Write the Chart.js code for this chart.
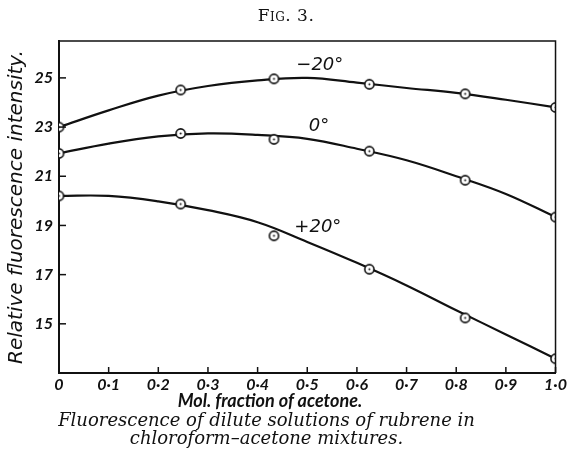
<!DOCTYPE html>
<html>
<head>
<meta charset="utf-8">
<script src="https://cdn.jsdelivr.net/npm/chart.js@4"></script>
<style>
  body { margin: 0; background: #fff; }
  #wrap { position: relative; width: 569px; height: 459px; }
  #chart { position: absolute; left: 0; top: 0; }
  .txt { position: absolute; color: #111; white-space: nowrap; }
  #fig { left: 0; width: 572px; top: 5px; text-align: center; font: 17px "DejaVu Serif", serif; font-variant: small-caps; letter-spacing: 0.5px; }
  #xtitle { left: 0; width: 540px; top: 389px; text-align: center; font: italic bold 18px Lato, sans-serif; }
  #caption { left: 0; width: 533px; top: 411px; text-align: center; font: italic 18px "DejaVu Serif", serif; line-height: 18px; }
</style>
</head>
<body>
<div id="wrap">
  <canvas id="chart" width="569" height="459"></canvas>
  <div class="txt" id="fig">Fig. 3.</div>
  <div class="txt" id="xtitle">Mol. fraction of acetone.</div>
  <div class="txt" id="caption">Fluorescence of dilute solutions of rubrene in<br>chloroform–acetone mixtures.</div>
</div>
<script>
// measured points
const molFraction = [0, 0.245, 0.433, 0.625, 0.818, 1.0];
const minus20 = [23.0, 24.51, 24.96, 24.74, 24.35, 23.8];
const zero = [21.93, 22.74, 22.5, 22.02, 20.84, 19.34];
const plus20 = [20.2, 19.87, 18.58, 17.22, 15.24, 13.58];

// drawn curves
const curveX = [0, 0.1, 0.2, 0.3, 0.4, 0.5, 0.6, 0.7, 0.8, 0.9, 1.0];
const curveMinus20 = [23.0, 23.68, 24.28, 24.67, 24.9, 25.0, 24.81, 24.59, 24.39, 24.11, 23.8];
const curveZero = [21.93, 22.33, 22.62, 22.74, 22.68, 22.52, 22.12, 21.65, 21.0, 20.28, 19.34];
const curvePlus20 = [20.2, 20.2, 19.98, 19.62, 19.13, 18.33, 17.48, 16.56, 15.55, 14.57, 13.58];

const yTicks = [15, 17, 19, 21, 23, 25];
const seriesNames = ['−20°', '0°', '+20°'];

const toXY = (xs, ys) => xs.map((x, i) => ({ x: x, y: ys[i] }));

// circle with a dot in the middle
const marker = document.createElement('canvas');
marker.width = 13; marker.height = 13;
const mctx = marker.getContext('2d');
mctx.beginPath();
mctx.arc(6.5, 6.5, 4.6, 0, Math.PI * 2);
mctx.fillStyle = '#fff';
mctx.fill();
mctx.lineWidth = 1.6;
mctx.strokeStyle = '#111';
mctx.stroke();
mctx.beginPath();
mctx.arc(6.5, 6.5, 1, 0, Math.PI * 2);
mctx.fillStyle = '#111';
mctx.fill();

function curve(data) {
    return {
        data: data, borderColor: '#111', borderWidth: 2.2, pointRadius: 0,
        tension: 0.4, fill: false, order: 1
    };
}
function points(data) {
    return {
        data: data, showLine: false, pointStyle: marker, pointRadius: 6, order: 0
    };
}

// where the series names sit, in data units
const nameAt = [{ x: 0.478, y: 25.5 }, { x: 0.503, y: 23.05 }, { x: 0.474, y: 18.92 }];

const framePlugin = {
    id: 'frame',
    afterDatasetsDraw(chart) {
        const ctx = chart.ctx, a = chart.chartArea;
        const xs = chart.scales.x, ys = chart.scales.y;
        ctx.save();
        ctx.strokeStyle = '#111';
        ctx.lineWidth = 1.5;
        ctx.beginPath();
        ctx.moveTo(a.left, a.top);
        ctx.lineTo(a.right, a.top);
        ctx.lineTo(a.right, a.bottom);
        ctx.stroke();
        // inward ticks
        xs.ticks.forEach(t => {
            const px = xs.getPixelForValue(t.value);
            ctx.beginPath();
            ctx.moveTo(px, a.bottom);
            ctx.lineTo(px, a.bottom - 6);
            ctx.stroke();
        });
        ys.ticks.forEach(t => {
            const py = ys.getPixelForValue(t.value);
            ctx.beginPath();
            ctx.moveTo(a.left, py);
            ctx.lineTo(a.left + 7, py);
            ctx.stroke();
        });
        ctx.fillStyle = '#111';
        ctx.font = 'italic 18px "DejaVu Sans", sans-serif';
        ctx.textBaseline = 'middle';
        ctx.textAlign = 'left';
        nameAt.forEach((p, i) => {
            ctx.fillText(seriesNames[i], xs.getPixelForValue(p.x), ys.getPixelForValue(p.y));
        });
        ctx.restore();
    }
};

const tickFont = { family: 'Lato, sans-serif', size: 16, style: 'italic', weight: 'bold' };

new Chart(document.getElementById('chart'), {
    type: 'line',
    data: {
        datasets: [
            curve(toXY(curveX, curveMinus20)),
            curve(toXY(curveX, curveZero)),
            curve(toXY(curveX, curvePlus20)),
            points(toXY(molFraction, minus20)),
            points(toXY(molFraction, zero)),
            points(toXY(molFraction, plus20))
        ]
    },
    options: {
        responsive: false,
        animation: false,
        devicePixelRatio: 1,
        layout: { padding: { left: 0, top: 41, right: 12, bottom: 66 } },
        plugins: { legend: { display: false }, tooltip: { enabled: false } },
        scales: {
            x: {
                type: 'linear', min: 0, max: 1,
                ticks: {
                    stepSize: 0.1, color: '#111', font: tickFont, padding: 2,
                    maxRotation: 0, autoSkip: false,
                    callback: v => v === 0 ? '0' : v.toFixed(1).replace('.', '·')
                },
                grid: { drawOnChartArea: false, drawTicks: false },
                border: { color: '#111', width: 2 },
                afterFit: s => { s.height = 20; }
            },
            y: {
                min: 13, max: 26.5,
                afterBuildTicks: s => { s.ticks = yTicks.map(v => ({ value: v })); },
                ticks: { color: '#111', font: tickFont, padding: 6 },
                grid: { drawOnChartArea: false, drawTicks: false },
                border: { color: '#111', width: 2 },
                title: {
                    display: true, text: 'Relative fluorescence intensity.', color: '#111',
                    font: { family: '"DejaVu Sans", sans-serif', size: 20, style: 'italic' }, padding: { top: 5, bottom: 0 }
                },
                afterFit: s => { s.width = 59; }
            }
        }
    },
    plugins: [framePlugin]
});
</script>
</body>
</html>
